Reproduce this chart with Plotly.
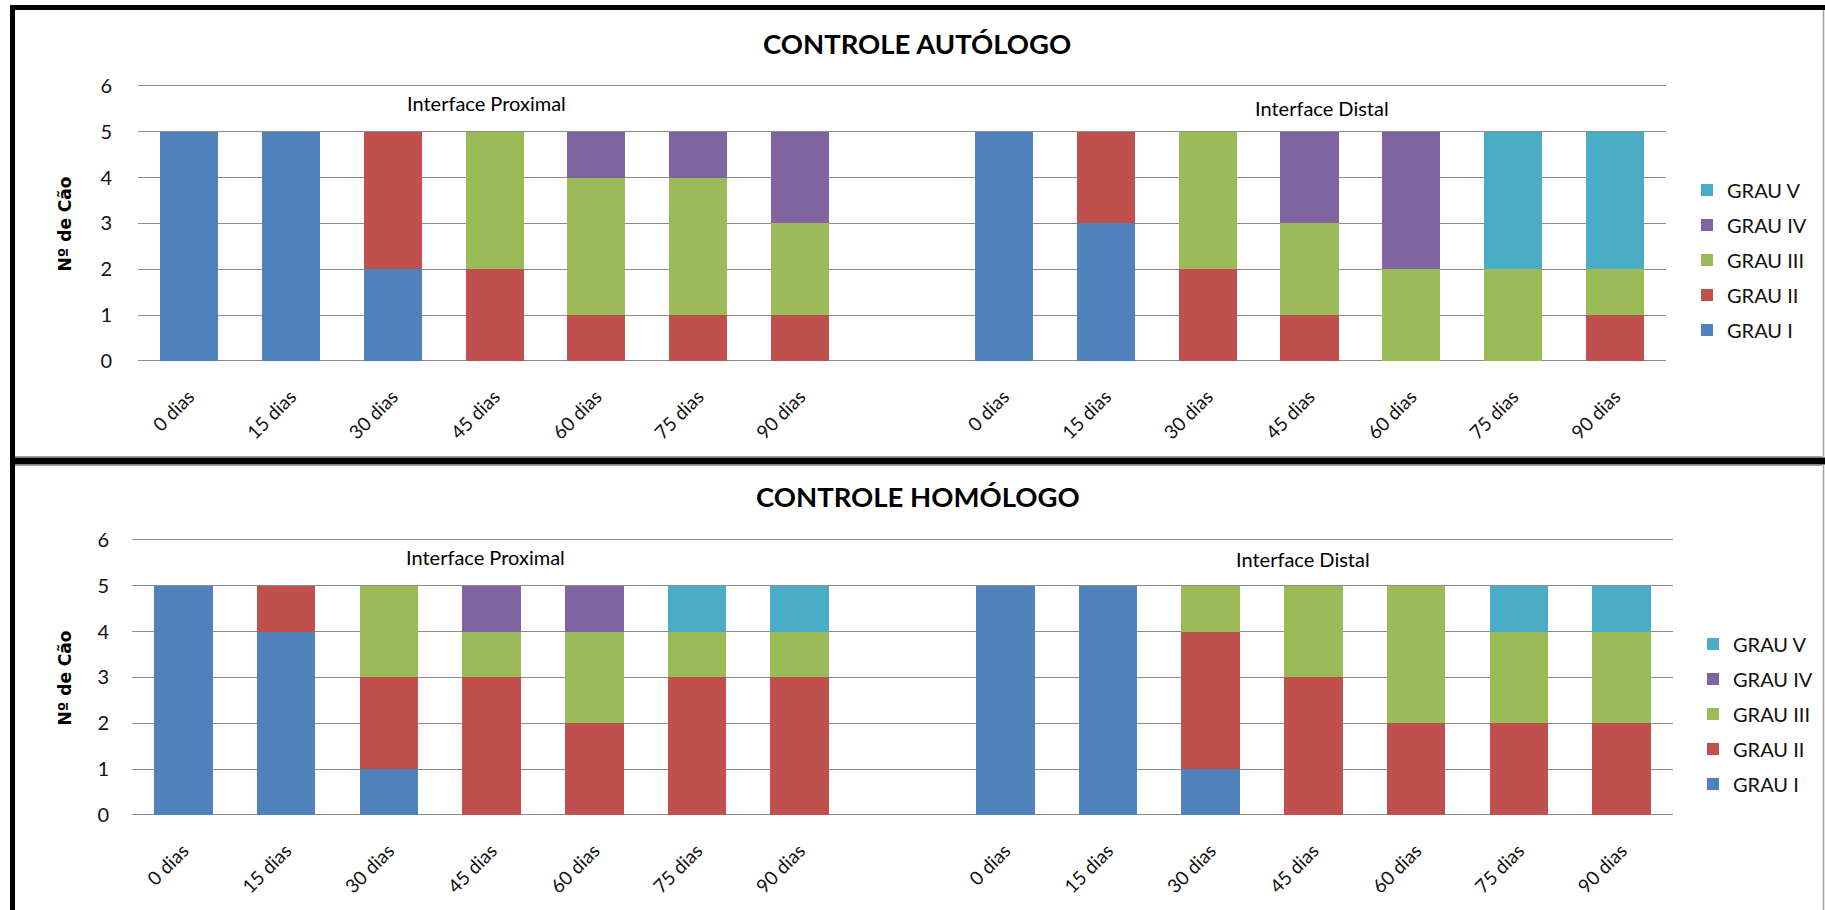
import plotly.graph_objects as go

W, H = 1825, 910

graus = ["GRAU I", "GRAU II", "GRAU III", "GRAU IV", "GRAU V"]
cores = ["#4F81BD", "#C0504D", "#9BBB59", "#8064A2", "#4BACC6"]
dias = ["0 dias", "15 dias", "30 dias", "45 dias", "60 dias", "75 dias", "90 dias"]

# Número de cães por grau (uma lista por grau, na ordem de "dias")
autologo_proximal = [
    [5, 5, 2, 0, 0, 0, 0],
    [0, 0, 3, 2, 1, 1, 1],
    [0, 0, 0, 3, 3, 3, 2],
    [0, 0, 0, 0, 1, 1, 2],
    [0, 0, 0, 0, 0, 0, 0],
]
autologo_distal = [
    [5, 3, 0, 0, 0, 0, 0],
    [0, 2, 2, 1, 0, 0, 1],
    [0, 0, 3, 2, 2, 2, 1],
    [0, 0, 0, 2, 3, 0, 0],
    [0, 0, 0, 0, 0, 3, 3],
]
homologo_proximal = [
    [5, 4, 1, 0, 0, 0, 0],
    [0, 1, 2, 3, 2, 3, 3],
    [0, 0, 2, 1, 2, 1, 1],
    [0, 0, 0, 1, 1, 0, 0],
    [0, 0, 0, 0, 0, 1, 1],
]
homologo_distal = [
    [5, 5, 1, 0, 0, 0, 0],
    [0, 0, 3, 3, 2, 2, 2],
    [0, 0, 1, 2, 3, 2, 2],
    [0, 0, 0, 0, 0, 0, 0],
    [0, 0, 0, 0, 0, 1, 1],
]

# Posições no eixo: interface proximal, uma vaga vazia, interface distal
pos_prox = list(range(len(dias)))
pos_dist = [len(dias) + 1 + i for i in range(len(dias))]
posicoes = pos_prox + pos_dist
rotulos = dias + dias

FONT = "Lato"
GRID = "#8c8c8c"
TXT = "#111111"
Y_MAX = 6.04  # folga para a linha de grade do 6 ficar visível


def px_x(p):
    return p / W


def px_y(p):
    return 1 - p / H


fig = go.Figure()

paineis = [
    (autologo_proximal, autologo_distal, "x", "y", "legend"),
    (homologo_proximal, homologo_distal, "x2", "y2", "legend2"),
]
for prox, dist, xa, ya, leg in paineis:
    for g, nome in enumerate(graus):
        fig.add_trace(go.Bar(
            x=posicoes,
            y=prox[g] + dist[g],
            name=nome,
            marker=dict(color=cores[g], line=dict(width=0)),
            width=0.57,
            xaxis=xa, yaxis=ya,
            legend=leg,
            legendgroup=leg + nome,
            legendrank=len(graus) - g,
        ))

eixo_x = dict(
    range=[-0.5, 14.5], tickmode="array", tickvals=posicoes, ticktext=rotulos,
    tickangle=-45, showgrid=False, zeroline=False, showline=False, ticks="",
    tickfont=dict(family=FONT, size=19, color=TXT), ticklabelstandoff=20,
    fixedrange=True, automargin=False,
)
eixo_y = dict(
    range=[0, Y_MAX], tickmode="array", tickvals=[0, 1, 2, 3, 4, 5, 6],
    showgrid=True, gridcolor=GRID, gridwidth=1,
    zeroline=True, zerolinecolor=GRID, zerolinewidth=1.2, showline=False, ticks="",
    tickfont=dict(family=FONT, size=20, color=TXT),
    fixedrange=True, automargin=False,
)


# Escala vertical: 0 -> pixel y0, 6 -> pixel y6
def dominio_y(y0, y6):
    unidade = (y0 - y6) / 6
    topo = y0 - unidade * Y_MAX
    return [px_y(y0), px_y(topo)]


legenda = dict(
    xanchor="left", yanchor="middle",
    traceorder="grouped", tracegroupgap=6,
    font=dict(family=FONT, size=20, color=TXT), bgcolor="rgba(0,0,0,0)",
)

fig.update_layout(
    width=W, height=H,
    margin=dict(l=0, r=0, t=0, b=0, pad=0, autoexpand=False),
    paper_bgcolor="white", plot_bgcolor="white",
    barmode="stack",
    showlegend=True,
    xaxis=dict(eixo_x, domain=[px_x(138), px_x(1666)], anchor="y"),
    yaxis=dict(eixo_y, domain=dominio_y(361, 86), anchor="x", ticklabelstandoff=25),
    xaxis2=dict(eixo_x, domain=[px_x(132), px_x(1673)], anchor="y2"),
    yaxis2=dict(eixo_y, domain=dominio_y(815, 540), anchor="x2", ticklabelstandoff=22),
    legend=dict(legenda, x=px_x(1687), y=px_y(260)),
    legend2=dict(legenda, x=px_x(1693), y=px_y(714)),
)

# Títulos e legendas das interfaces
textos = [
    ("CONTROLE AUTÓLOGO", 917, 43, 27.5, "bold"),
    ("CONTROLE HOMÓLOGO", 918, 497, 27.5, "bold"),
    ("Interface Proximal", 486, 103, 20, "normal"),
    ("Interface Distal", 1322, 108, 20, "normal"),
    ("Interface Proximal", 485, 557, 20, "normal"),
    ("Interface Distal", 1303, 559, 20, "normal"),
]
for txt, cx, cy, sz, wt in textos:
    fig.add_annotation(
        text=txt, x=px_x(cx), y=px_y(cy), xref="paper", yref="paper",
        xanchor="center", yanchor="middle", showarrow=False,
        font=dict(family=FONT, size=sz, color="#000000", weight=wt),
    )

for cy in (223.5, 677.5):
    fig.add_annotation(
        text="Nº de Cão", x=px_x(64), y=px_y(cy), xref="paper", yref="paper",
        xanchor="center", yanchor="middle", showarrow=False, textangle=-90,
        font=dict(family="DejaVu Sans", size=17, color="#000000", weight="bold"),
    )

# Molduras dos dois painéis
linhas = [
    (10, 7.5, W, 7.5, 5, "#000000"),
    (12.5, 5, 12.5, H, 5, "#000000"),
    (10, 461, W, 461, 7, "#000000"),
    (1823.5, 10, 1823.5, 457, 1.5, "#a0a0a0"),
    (1823.5, 465, 1823.5, H, 1.5, "#a0a0a0"),
    (15, 456.5, 1822, 456.5, 1, "#a0a0a0"),
    (15, 465.5, 1822, 465.5, 1, "#a0a0a0"),
]
for x0, y0, x1, y1, lw, cor in linhas:
    fig.add_shape(
        type="line", xref="paper", yref="paper",
        x0=px_x(x0), y0=px_y(y0), x1=px_x(x1), y1=px_y(y1),
        line=dict(color=cor, width=lw), layer="above",
    )

fig.write_html("out.html")
